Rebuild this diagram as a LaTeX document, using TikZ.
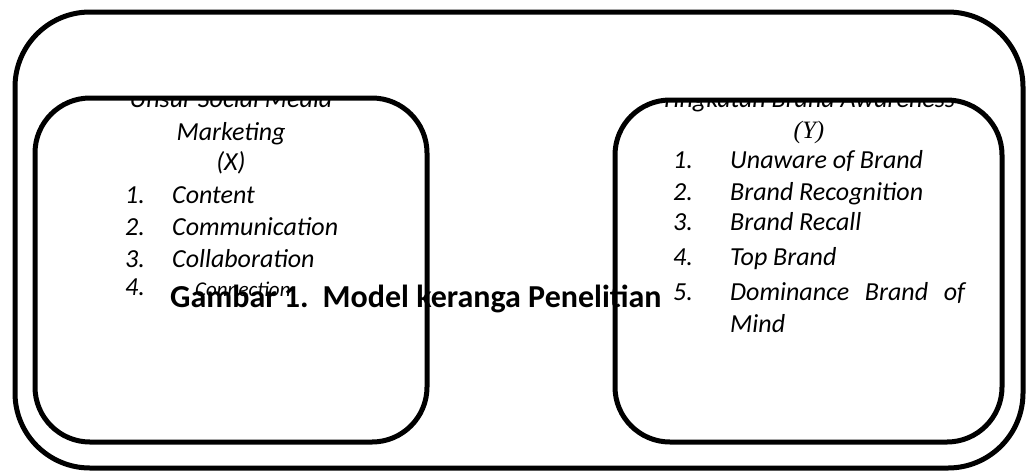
\documentclass[tikz,border=0pt]{standalone}
\usepackage{fontspec}
\setmainfont{Carlito}
\newfontfamily\timesfont{Liberation Serif}
\usepackage{tikz}
\usetikzlibrary{positioning}

\tikzset{
  frame/.style={draw, line width=5pt, rounded corners=#1},
  title/.style={inner sep=0pt, anchor=base, font=\fontsize{26}{30}\selectfont\itshape},
  num/.style={inner sep=0pt, anchor=base west, font=\fontsize{26}{30}\selectfont\itshape},
  item/.style={inner sep=0pt, anchor=base west, font=\fontsize{26}{30}\selectfont\itshape},
  caption/.style={inner sep=0pt, anchor=base west, font=\fontsize{32}{36}\selectfont\bfseries}
}

\begin{document}
\begin{tikzpicture}[x=1pt, y=-1pt]
  \useasboundingbox (0,0) rectangle (1030,472);

  % titles, cut by the top line of their boxes
  \begin{scope}
    \clip (0,98) rectangle (1030,472);
    \node[title] (xtitle) at (231,107) {Unsur Social Media};
    \node[title] (ytitle) at (808,107) {Tingkatan Brand Awareness};
  \end{scope}
  \node[title] (xmark) at (231,140) {Marketing};
  \node[title] (xvar) at (231,170) {(X)};
  \node[title, font=\fontsize{25}{30}\timesfont\itshape] (yvar) at (809,138) {(Y)};

  % left list
  \foreach \n/\t/\y in {1/Content/203, 2/Communication/235, 3/Collaboration/267} {
    \node[num] (xn\n) at (125,\y) {\n.};
    \node[item] (xi\n) at (172,\y) {\t};
  }
  \node[num] (xn4) at (125,295) {4.};
  \node[item, font=\fontsize{21}{25}\selectfont\itshape] (xi4) at (195,296) {Connection};

  % right list
  \foreach \n/\t/\y in {1/Unaware of Brand/168, 2/Brand Recognition/200, 3/Brand Recall/230, 4/Top Brand/265} {
    \node[num] (yn\n) at (673,\y) {\n.};
    \node[item] (yi\n) at (730,\y) {\t};
  }
  \node[num] (yn5) at (673,300) {5.};
  \node[item] (yi5) at (730,300) {\makebox[235pt][s]{Dominance Brand of}};
  \node[item] (yi5b) at (730,332) {Mind};

  \node[caption] (cap) at (170,307) {Gambar 1.\hspace{14pt}Model keranga Penelitian};

  % boxes
  \draw[frame=75] (15,12) rectangle (1023,468);
  \draw[frame=55] (35,98) rectangle (427,442);
  \draw[frame=55] (615,100) rectangle (1002,442);
\end{tikzpicture}
\end{document}
